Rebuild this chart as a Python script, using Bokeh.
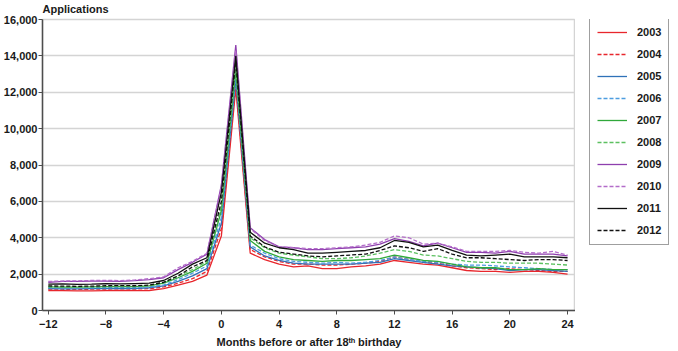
from bokeh.plotting import figure
from bokeh.layouts import row
from bokeh.models import (Range1d, FixedTicker, NumeralTickFormatter, Legend,
                          LegendItem)
from bokeh.embed import file_html
from bokeh.resources import INLINE

months = [-12, -11, -10, -9, -8, -7, -6, -5, -4, -3, -2, -1, 0, 1, 2, 3, 4, 5, 6,
          7, 8, 9, 10, 11, 12, 13, 14, 15, 16, 17, 18, 19, 20, 21, 22, 23, 24]

x_ticks = [-12, -8, -4, 0, 4, 8, 12, 16, 20, 24]
x_tick_labels = ["\u221212", "\u22128", "\u22124", "0", "4", "8", "12", "16", "20", "24"]
y_ticks = [0, 2000, 4000, 6000, 8000, 10000, 12000, 14000, 16000]

years = ["2003", "2004", "2005", "2006", "2007", "2008", "2009", "2010", "2011", "2012"]

y2003 = [1100, 1090, 1080, 1080, 1090, 1100, 1090, 1100, 1200, 1400, 1600, 1950,
         4100, 12200, 3150, 2800, 2550, 2400, 2450, 2300, 2300, 2400, 2450, 2550,
         2750, 2650, 2550, 2500, 2350, 2200, 2150, 2150, 2100, 2150, 2150, 2100, 2000]
y2004 = [1180, 1170, 1160, 1170, 1180, 1190, 1180, 1200, 1300, 1500, 1750, 2150,
         4500, 12500, 3350, 2950, 2700, 2550, 2550, 2500, 2500, 2550, 2600, 2700,
         2950, 2800, 2650, 2600, 2450, 2350, 2300, 2250, 2300, 2250, 2200, 2150, 2150]
y2005 = [1200, 1190, 1190, 1200, 1210, 1220, 1210, 1250, 1350, 1600, 1900, 2300,
         4800, 12700, 3500, 3000, 2750, 2600, 2550, 2550, 2550, 2550, 2600, 2650,
         2850, 2750, 2650, 2550, 2450, 2400, 2350, 2300, 2200, 2250, 2250, 2200, 2150]
y2006 = [1250, 1240, 1240, 1250, 1260, 1270, 1260, 1300, 1400, 1700, 2050, 2450,
         5100, 12900, 3600, 3150, 2850, 2700, 2650, 2600, 2650, 2600, 2650, 2750,
         2950, 2800, 2700, 2650, 2550, 2500, 2500, 2450, 2400, 2350, 2300, 2250, 2250]
y2007 = [1300, 1290, 1290, 1300, 1310, 1320, 1310, 1350, 1500, 1800, 2150, 2600,
         5500, 13200, 3850, 3250, 2950, 2800, 2750, 2700, 2750, 2750, 2800, 2850,
         3050, 2900, 2750, 2700, 2550, 2400, 2350, 2350, 2250, 2250, 2300, 2250, 2250]
y2008 = [1320, 1310, 1300, 1310, 1320, 1330, 1320, 1380, 1550, 1900, 2250, 2700,
         5700, 13400, 4000, 3450, 3150, 3050, 2950, 2850, 2850, 2900, 3000, 3150,
         3350, 3250, 3050, 3000, 2850, 2700, 2650, 2650, 2600, 2600, 2600, 2550, 2500]
y2009 = [1550, 1600, 1600, 1610, 1620, 1600, 1640, 1700, 1800, 2250, 2650, 3100,
         6900, 14600, 4550, 3900, 3500, 3450, 3350, 3350, 3400, 3450, 3500, 3650,
         3950, 3800, 3550, 3700, 3450, 3200, 3200, 3150, 3250, 3100, 3100, 3100, 3000]
y2010 = [1600, 1620, 1630, 1650, 1660, 1640, 1680, 1750, 1850, 2350, 2700, 3150,
         6800, 14300, 4500, 3850, 3500, 3450, 3400, 3400, 3450, 3500, 3600, 3750,
         4100, 4000, 3650, 3700, 3500, 3250, 3250, 3250, 3300, 3200, 3150, 3250, 3050]
y2011 = [1450, 1460, 1440, 1450, 1470, 1460, 1480, 1500, 1650, 2050, 2550, 2900,
         6500, 14000, 4300, 3700, 3450, 3350, 3150, 3150, 3200, 3250, 3300, 3450,
         3850, 3750, 3500, 3600, 3300, 3050, 3000, 3050, 3100, 2950, 2950, 2950, 2900]
y2012 = [1350, 1340, 1330, 1340, 1360, 1370, 1360, 1400, 1550, 1900, 2400, 2750,
         6000, 13700, 4100, 3500, 3200, 3100, 3000, 2950, 3000, 3050, 3100, 3300,
         3550, 3450, 3250, 3400, 3100, 2900, 2900, 2850, 2800, 2750, 2800, 2800, 2750]

series = [y2003, y2004, y2005, y2006, y2007, y2008, y2009, y2010, y2011, y2012]
colors = ["#e8262c", "#e8262c", "#2f72b8", "#4d9de0", "#2fa83a", "#5cc060",
          "#8e3fae", "#b36cc9", "#111111", "#111111"]
dashes = ["solid", "4 2", "solid", "4 2", "solid", "4 2", "solid", "4 2", "solid", "4 2"]

FONT = "Liberation Sans"
NAN = float("nan")

p = figure(width=575, height=351, output_backend="svg", toolbar_location=None,
           title="Applications", x_range=Range1d(-12.4, 24.55),
           y_range=Range1d(0, 16000),
           min_border_left=40, min_border_right=0, min_border_top=19,
           min_border_bottom=41)
p.background_fill_color = "white"
p.border_fill_color = "white"
p.outline_line_color = "#d4d4d4"
p.outline_line_width = 1.5

p.title.align = "left"
p.title.vertical_align = "top"
p.title.text_font = FONT
p.title.text_font_style = "bold"
p.title.text_font_size = "11px"
p.title.text_color = "#1a1a1a"
p.title.standoff = 5
p.title.offset = 0

for vals, c, d in zip(series, colors, dashes):
    p.line(months, vals, line_color=c, line_width=1.3, line_dash=d)

# axes
p.xaxis.ticker = FixedTicker(ticks=x_ticks)
p.xaxis.major_label_overrides = {t: s for t, s in zip(x_ticks, x_tick_labels)}
p.yaxis.ticker = FixedTicker(ticks=y_ticks)
p.yaxis.formatter = NumeralTickFormatter(format="0,0")
for ax in (p.xaxis, p.yaxis):
    ax.axis_line_color = "#4d4d4d"
    ax.axis_line_width = 1.5
    ax.major_tick_line_color = "#4d4d4d"
    ax.major_tick_line_width = 1
    ax.major_tick_out = 4
    ax.major_tick_in = 0
    ax.minor_tick_line_color = None
    ax.major_label_text_font = FONT
    ax.major_label_text_font_style = "bold"
    ax.major_label_text_font_size = "11px"
    ax.major_label_text_color = "#1a1a1a"
p.yaxis.major_label_standoff = 1
p.xaxis.major_label_standoff = 5

p.xaxis.axis_label = "Months before or after 18\u1d57\u02b0 birthday"
p.xaxis.axis_label_text_font = FONT
p.xaxis.axis_label_text_font_style = "bold"
p.xaxis.axis_label_text_font_size = "11px"
p.xaxis.axis_label_text_color = "#1a1a1a"
p.xaxis.axis_label_standoff = 5

p.xgrid.grid_line_color = None
p.ygrid.grid_line_color = "#d4d4d4"
p.ygrid.grid_line_width = 1.5

# legend panel (separate small figure to the right of the chart)
lg = figure(width=103, height=351, output_backend="svg", toolbar_location=None,
            x_range=Range1d(0, 1), y_range=Range1d(0, 1),
            x_axis_location=None, y_axis_location=None, min_border=0)
lg.grid.visible = False
lg.outline_line_color = None
lg.background_fill_color = "white"
lg.border_fill_color = "white"

items = []
for yr, c, d in zip(years, colors, dashes):
    r = lg.line([NAN, NAN], [NAN, NAN], line_color=c, line_width=1.3, line_dash=d)
    items.append(LegendItem(label=yr, renderers=[r]))

legend = Legend(items=items, location=(14, 65), orientation="vertical",
                label_text_font=FONT, label_text_font_style="bold",
                label_text_font_size="11px", label_text_color="#1a1a1a",
                glyph_width=30, glyph_height=14, label_height=14,
                spacing=8, padding=7, margin=0, label_standoff=10,
                border_line_color="#404040", border_line_width=1.5,
                background_fill_color="white", background_fill_alpha=1)
lg.add_layout(legend, "center")

layout = row(p, lg, spacing=0)
open("out.html", "w").write(file_html(layout, INLINE))
